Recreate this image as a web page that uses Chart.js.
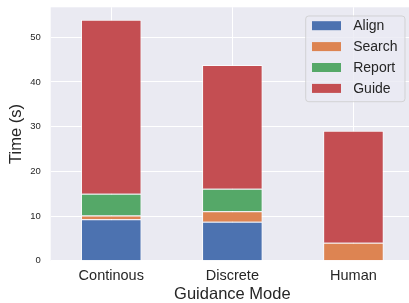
<!DOCTYPE html>
<html>
<head>
<meta charset="utf-8">
<script src="https://cdn.jsdelivr.net/npm/chart.js@4.4.1/dist/chart.umd.min.js"></script>
<style>
    html, body { margin: 0; padding: 0; background: #fff; overflow: hidden; }
    #wrap { width: 414px; height: 303px; position: relative; }
</style>
</head>
<body>
<div id="wrap"><canvas id="chart"></canvas></div>
<script>
const modes = ['Continous', 'Discrete', 'Human'];
const alignTimes = [9.3, 8.7, 0];
const searchTimes = [0.8, 2.35, 4.0];
const reportTimes = [4.9, 5.05, 0];
const guideTimes = [38.9, 27.7, 25.1];
const yTicks = [0, 10, 20, 30, 40, 50];
const yMax = 56.7;

const seriesNames = ['Align', 'Search', 'Report', 'Guide'];
const seriesData = [alignTimes, searchTimes, reportTimes, guideTimes];
const seriesColors = ['#4C72B0', '#DD8452', '#55A868', '#C44E52'];

const textColor = '#262626';
const fontFamily = '"Liberation Sans", Arial, sans-serif';

// legend box drawn like matplotlib's frame (semi-transparent, rounded)
const boxLegend = {
    id: 'boxLegend',
    afterDraw(chart) {
        const ctx = chart.ctx;
        const area = chart.chartArea;
        const w = 99.3, rowH = 20.9;
        const h = 85.7;
        const x = area.right - 9 - w;
        const y = area.top + 8.7;
        ctx.save();
        ctx.beginPath();
        ctx.roundRect(x, y, w, h, 3);
        ctx.fillStyle = 'rgba(234, 234, 242, 0.8)';
        ctx.fill();
        ctx.lineWidth = 1;
        ctx.strokeStyle = 'rgba(204, 204, 204, 0.8)';
        ctx.stroke();
        ctx.font = '14px ' + fontFamily;
        ctx.textBaseline = 'middle';
        chart.data.datasets.forEach((ds, i) => {
            const cy = y + 9.7 + i * rowH;
            ctx.fillStyle = ds.backgroundColor;
            ctx.fillRect(x + 6.3, cy - 4.5, 29, 9);
            ctx.fillStyle = textColor;
            ctx.fillText(ds.label, x + 47.5, cy + 0.5);
        });
        ctx.restore();
    }
};

new Chart(document.getElementById('chart'), {
    type: 'bar',
    data: {
        labels: modes,
        datasets: seriesNames.map((name, i) => ({
            label: name,
            data: seriesData[i],
            backgroundColor: seriesColors[i],
            borderColor: 'rgba(255, 255, 255, 0.75)',
            borderWidth: 1,
            categoryPercentage: 1.0,
            barPercentage: 0.5
        }))
    },
    options: {
        responsive: true,
        maintainAspectRatio: false,
        animation: false,
        devicePixelRatio: 1,
        layout: { padding: { top: 7.3, left: 0, right: 0, bottom: 0 } },
        plugins: {
            legend: { display: false },
            tooltip: { enabled: false }
        },
        scales: {
            x: {
                stacked: true,
                border: { display: false },
                grid: { color: '#ffffff', lineWidth: 1, offset: false, drawTicks: false },
                ticks: {
                    color: textColor,
                    padding: 7,
                    font: { family: fontFamily, size: 14.5 }
                },
                title: {
                    display: true,
                    text: 'Guidance Mode',
                    color: textColor,
                    font: { family: fontFamily, size: 16.5, lineHeight: 1 },
                    padding: { top: 0, bottom: 0.3 }
                },
                afterFit: (scale) => {
                    scale.height = 42.3;
                    scale.paddingLeft = 0;
                    scale.paddingRight = 0;
                }
            },
            y: {
                stacked: true,
                min: 0,
                max: yMax,
                border: { display: false },
                grid: { color: '#ffffff', lineWidth: 1, drawTicks: false },
                afterBuildTicks: (scale) => {
                    scale.ticks = yTicks.map(v => ({ value: v }));
                },
                ticks: {
                    color: textColor,
                    padding: 10,
                    font: { family: fontFamily, size: 9.5 }
                },
                title: {
                    display: true,
                    text: 'Time (s)',
                    color: textColor,
                    font: { family: fontFamily, size: 16.5, lineHeight: 1.2 },
                    padding: { top: 6.1, bottom: 0 }
                },
                afterFit: (scale) => {
                    scale.width = 50.7;
                    scale.paddingTop = 0;
                    scale.paddingBottom = 0;
                }
            }
        }
    },
    plugins: [{
        id: 'plotBg',
        beforeDraw(chart) {
            const { ctx, chartArea: a } = chart;
            ctx.save();
            ctx.fillStyle = '#EAEAF2';
            ctx.fillRect(a.left, a.top, a.right - a.left, a.bottom - a.top);
            ctx.restore();
        }
    }, boxLegend]
});
</script>
</body>
</html>
